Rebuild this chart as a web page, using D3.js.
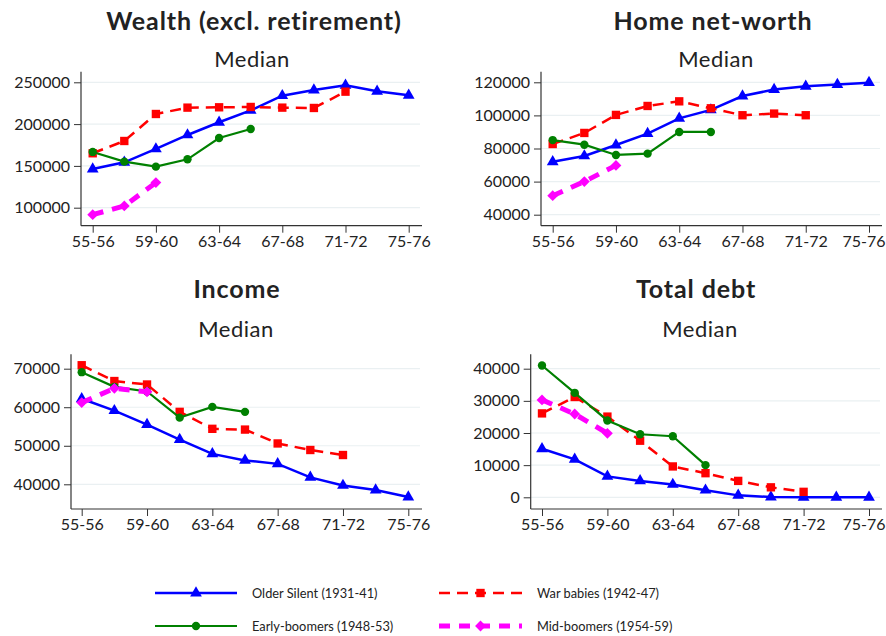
<!DOCTYPE html>
<html>
<head>
<meta charset="utf-8">
<script src="https://cdn.jsdelivr.net/npm/d3@7"></script>
<style>
  body { margin: 0; background: #fff; }
  svg { font-family: "Source Sans Pro", Lato, "Noto Sans", sans-serif; }
</style>
</head>
<body>
<div id="chart"></div>
<script>
// age groups (x categories)
var ages = ["55-56", "57-58", "59-60", "61-62", "63-64", "65-66", "67-68", "69-70", "71-72", "73-74", "75-76"];
var tickAges = ["55-56", "59-60", "63-64", "67-68", "71-72", "75-76"];

var cohorts = ["Older Silent (1931-41)", "War babies (1942-47)", "Early-boomers (1948-53)", "Mid-boomers (1954-59)"];

// Wealth (excl. retirement)
var wealthSilent = [146300, 154300, 170300, 187000, 202200, 216500, 234000, 240800, 246400, 239200, 234400];
var wealthWar = [165100, 179800, 212100, 219700, 220100, 220500, 219700, 219300, 238800];
var wealthEarly = [166700, 155100, 149100, 157900, 183400, 194200];
var wealthMid = [91700, 102100, 130000];

// Home net-worth
var homeSilent = [72000, 75500, 82100, 89000, 98200, 103300, 111700, 115600, 117600, 118600, 119800];
var homeWar = [82700, 89400, 100300, 105700, 108500, 104300, 100100, 101100, 100100];
var homeEarly = [85100, 82300, 76100, 76900, 90000, 90000];
var homeMid = [51500, 60000, 69800];

// Income
var incomeSilent = [62200, 59100, 55500, 51600, 47900, 46200, 45300, 41800, 39700, 38500, 36700];
var incomeWar = [70900, 66800, 65900, 58800, 54400, 54200, 50600, 48900, 47600];
var incomeEarly = [69100, 65300, 64100, 57300, 60100, 58800];
var incomeMid = [61200, 64900, 64000];

// Total debt
var debtSilent = [15100, 11800, 6500, 5100, 4000, 2200, 600, 100, 0, 0, 0];
var debtWar = [26100, 31200, 25100, 17600, 9600, 7500, 5100, 3100, 1700];
var debtEarly = [41000, 32500, 23900, 19600, 19000, 10000];
var debtMid = [30300, 25900, 19900];

var wealthTicks = [100000, 150000, 200000, 250000];
var homeTicks = [40000, 60000, 80000, 100000, 120000];
var incomeTicks = [40000, 50000, 60000, 70000];
var debtTicks = [0, 10000, 20000, 30000, 40000];

var styles = [
  { color: "#0000ff", width: 2.5, dash: null, marker: d3.symbolTriangle, size: 60 },
  { color: "#ff0000", width: 2.5, dash: "11,7", marker: d3.symbolSquare, size: 70 },
  { color: "#008000", width: 2.2, dash: null, marker: d3.symbolCircle, size: 55 },
  { color: "#ff00ff", width: 5, dash: "11,9", marker: d3.symbolDiamond2 || d3.symbolDiamond, size: 75 }
];

var panels = [
  { title: "Wealth (excl. retirement)", tx: 254, ty: 30, my: 67, mx: 252,
    axisX: 81, xr: [92.7, 408.7], right: 420, top: 71.7, bottom: 225.7,
    ticks: wealthTicks, yr: [207.7, 82.3],
    series: [wealthSilent, wealthWar, wealthEarly, wealthMid] },
  { title: "Home net-worth", tx: 713, ty: 30, my: 67, mx: 716,
    axisX: 541, xr: [552.7, 869], right: 880, top: 71.7, bottom: 225.7,
    ticks: homeTicks, yr: [214.7, 82.3],
    series: [homeSilent, homeWar, homeEarly, homeMid] },
  { title: "Income", tx: 237, ty: 298, my: 336.5, mx: 236,
    axisX: 71, xr: [81.7, 408.3], right: 420, top: 354.3, bottom: 509,
    ticks: incomeTicks, yr: [484.3, 368.7],
    series: [incomeSilent, incomeWar, incomeEarly, incomeMid] },
  { title: "Total debt", tx: 696, ty: 298, my: 336.5, mx: 700,
    axisX: 530.7, xr: [542, 869], right: 880, top: 354.3, bottom: 509,
    ticks: debtTicks, yr: [497.3, 368.7],
    series: [debtSilent, debtWar, debtEarly, debtMid] }
];

var svg = d3.select("#chart").append("svg")
  .attr("width", 886).attr("height", 636);

panels.forEach(function (p) {
  var g = svg.append("g");
  var x = d3.scalePoint().domain(ages).range(p.xr);
  var y = d3.scaleLinear()
    .domain([p.ticks[0], p.ticks[p.ticks.length - 1]])
    .range(p.yr);

  g.append("text").attr("x", p.tx).attr("y", p.ty)
    .attr("text-anchor", "middle").attr("font-size", 25).attr("font-weight", "bold")
    .attr("letter-spacing", 0.9)
    .attr("fill", "#222").text(p.title);
  g.append("text").attr("x", p.mx).attr("y", p.my)
    .attr("text-anchor", "middle").attr("font-size", 22)
    .attr("letter-spacing", 0.5)
    .attr("fill", "#222").text("Median");

  // grid
  g.selectAll("line.grid").data(p.ticks).enter().append("line")
    .attr("x1", p.axisX).attr("x2", p.right)
    .attr("y1", function (d) { return y(d); }).attr("y2", function (d) { return y(d); })
    .attr("stroke", "#eaf0f2").attr("stroke-width", 1.2);

  // y axis
  var yAxis = g.append("g").attr("transform", "translate(" + p.axisX + ",0)")
    .call(d3.axisLeft(y).tickValues(p.ticks).tickFormat(d3.format("d")).tickSize(7).tickPadding(4));
  yAxis.select(".domain").remove();
  g.append("line").attr("x1", p.axisX).attr("x2", p.axisX)
    .attr("y1", p.top).attr("y2", p.bottom).attr("stroke", "#333").attr("stroke-width", 1.2);

  // x axis
  var xAxis = g.append("g").attr("transform", "translate(0," + p.bottom + ")")
    .call(d3.axisBottom(x).tickValues(tickAges).tickSize(7).tickPadding(3));
  xAxis.select(".domain").remove();
  g.append("line").attr("x1", p.axisX).attr("x2", p.right + 2)
    .attr("y1", p.bottom).attr("y2", p.bottom).attr("stroke", "#333").attr("stroke-width", 1.2);

  g.selectAll(".tick line").attr("stroke", "#333");
  g.selectAll(".tick text").attr("font-size", 16).attr("fill", "#222")
    .attr("font-family", "\"Source Sans Pro\", Lato, \"Noto Sans\", sans-serif");
  // keep the last x label inside the window
  if (p.right > 860) {
    xAxis.selectAll(".tick text").filter(function (d) { return d === "75-76"; })
      .attr("text-anchor", "end").attr("dx", 16);
  }

  var line = d3.line()
    .x(function (d, i) { return x(ages[i]); })
    .y(function (d) { return y(d); });

  p.series.forEach(function (vals, si) {
    var st = styles[si];
    g.append("path").datum(vals)
      .attr("d", line).attr("fill", "none")
      .attr("stroke", st.color).attr("stroke-width", st.width)
      .attr("stroke-dasharray", st.dash);
    g.selectAll("path.m" + si).data(vals).enter().append("path")
      .attr("class", "m" + si)
      .attr("d", d3.symbol().type(st.marker).size(st.size))
      .attr("transform", function (d, i) { return "translate(" + x(ages[i]) + "," + y(d) + ")"; })
      .attr("fill", st.color);
  });
});

// legend
var legendPos = [
  { x1: 155, x2: 237, ty: 593 },
  { x1: 439, x2: 522, ty: 593 },
  { x1: 155, x2: 237, ty: 626 },
  { x1: 439, x2: 522, ty: 626 }
];
cohorts.forEach(function (c, i) {
  var st = styles[i];
  var lp = legendPos[i];
  var lg = svg.append("g");
  lg.append("line").attr("x1", lp.x1).attr("x2", lp.x2)
    .attr("y1", lp.ty).attr("y2", lp.ty)
    .attr("stroke", st.color).attr("stroke-width", st.width)
    .attr("stroke-dasharray", st.dash);
  lg.append("path")
    .attr("d", d3.symbol().type(st.marker).size(st.size))
    .attr("transform", "translate(" + ((lp.x1 + lp.x2) / 2) + "," + lp.ty + ")")
    .attr("fill", st.color);
  lg.append("text").attr("x", lp.x2 + 15).attr("y", lp.ty + 5)
    .attr("font-size", 12.8).attr("fill", "#222").text(c);
});
</script>
</body>
</html>
